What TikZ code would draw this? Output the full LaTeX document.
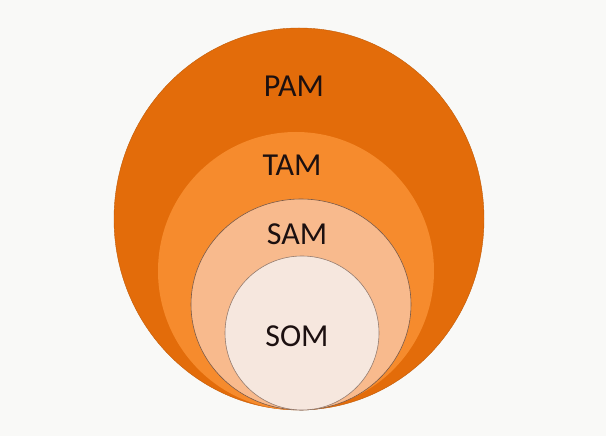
\documentclass[tikz,border=0pt]{standalone}
\usepackage{fontspec}
\setmainfont{Carlito}
\usetikzlibrary{shapes.geometric}
\definecolor{bgc}{HTML}{F9F9F7}
\definecolor{pamc}{HTML}{E36C0A}
\definecolor{tamc}{HTML}{F68B2D}
\definecolor{samc}{HTML}{F8BA8D}
\definecolor{somc}{HTML}{F6E7DE}
\definecolor{edgec}{HTML}{7A5A48}
\definecolor{txtc}{HTML}{1C1010}
\begin{document}
\begin{tikzpicture}[x=1pt,y=1pt,
  ring/.style={ellipse,inner sep=0pt,outer sep=0pt},
  lbl/.style={text=txtc,font=\fontsize{32}{36}\selectfont,inner sep=0pt}]
\fill[bgc] (0,0) rectangle (606,436);
\useasboundingbox (0,0) rectangle (606,436);
\node[ring,fill=pamc,draw=pamc!85!black,line width=0.4pt,minimum width=370pt,minimum height=382pt] (pam) at (299,217) {};
\node[ring,fill=tamc,minimum width=276pt,minimum height=278pt] (tam) at (296,165) {};
\node[ring,fill=samc,draw=edgec,line width=0.6pt,minimum width=220pt,minimum height=211pt] (sam) at (301,131.5) {};
\node[ring,fill=somc,draw=edgec!80,line width=0.6pt,minimum width=154pt,minimum height=154pt] (som) at (302,103) {};
\node[lbl] (tpam) at (294,350) {PAM};
\node[lbl] (ttam) at (292,271) {TAM};
\node[lbl] (tsam) at (297,201.5) {SAM};
\node[lbl] (tsom) at (297,100) {SOM};
\end{tikzpicture}
\end{document}
